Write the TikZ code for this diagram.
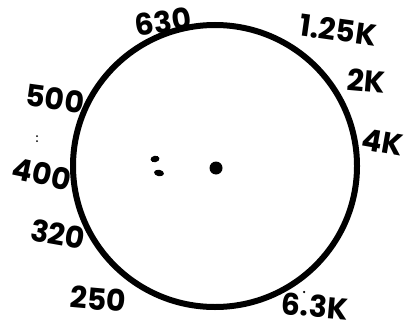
\documentclass[tikz,border=0pt]{standalone}
\usepackage{fontspec}
\setmainfont{Poppins}
\usetikzlibrary{shapes.geometric}
\begin{document}
\begin{tikzpicture}[x=1pt,y=-1pt,
  lbl/.style={inner sep=0pt, font=\fontsize{30}{30}\selectfont\bfseries},
  ring/.style={line width=6pt}]
\useasboundingbox[fill=white] (0,0) rectangle (406,329);
\draw[ring] (215,166) ellipse [x radius=142, y radius=141];
\node[draw=none, fill=black, circle, minimum size=13pt, inner sep=0pt] (c) at (216,168) {};
\node[fill=black, ellipse, minimum width=9pt, minimum height=6.5pt, inner sep=0pt, rotate=10] (d1) at (155,159) {};
\node[fill=black, ellipse, minimum width=10pt, minimum height=6.5pt, inner sep=0pt, rotate=-10] (d2) at (159,173) {};
\node[fill=black, circle, minimum size=2pt, inner sep=0pt] (s1) at (37,136) {};
\node[fill=black, circle, minimum size=2pt, inner sep=0pt] (s2) at (37,141) {};
\node[fill=black, circle, minimum size=2.5pt, inner sep=0pt] (s3) at (304,292) {};
\node[lbl, rotate=8] (l630) at (163,22) {630};
\node[lbl, rotate=-8] (l125) at (338,30) {1.25K};
\node[lbl, rotate=-5] (l2k) at (366,81) {2K};
\node[lbl, rotate=-10] (l4k) at (383,142) {4K};
\node[lbl, rotate=-8] (l500) at (55,99) {500};
\node[lbl, rotate=-12] (l400) at (42,174) {400};
\node[lbl, rotate=-10] (l320) at (58,234) {320};
\node[lbl, rotate=-5] (l250) at (98,299) {250};
\node[lbl, rotate=-5] (l63) at (315,306) {6.3K};
\end{tikzpicture}
\end{document}
